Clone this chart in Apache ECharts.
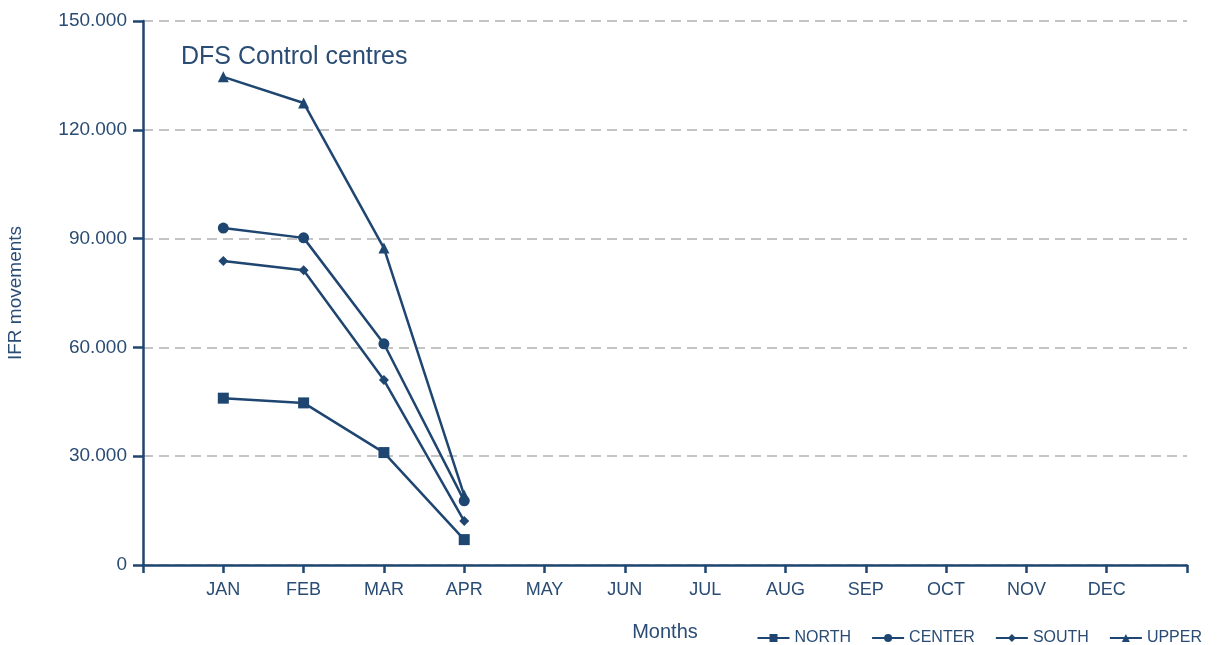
<!DOCTYPE html>
<html>
<head>
<meta charset="utf-8">
<script src="https://cdn.jsdelivr.net/npm/echarts@6/dist/echarts.min.js"></script>
<style>
  html, body { margin: 0; padding: 0; background: #fff; }
  #chart { width: 1217px; height: 645px; }
</style>
</head>
<body>
<div id="chart"></div>
<script>
const months = ['JAN', 'FEB', 'MAR', 'APR', 'MAY', 'JUN', 'JUL', 'AUG', 'SEP', 'OCT', 'NOV', 'DEC']
const north = [46000, 44700, 31000, 7000]
const center = [92900, 90200, 61000, 17700]
const south = [83800, 81300, 51000, 12100]
const upper = [134600, 127400, 87400, 19200]

const BLUE = '#1f4571'
const TEXT = '#2a4c74'
const FONT = '"Liberation Sans", Arial, sans-serif'

const toPoints = arr => arr.map((v, i) => [i + 1, v])
const thousands = v => String(v).replace(/\B(?=(\d{3})+(?!\d))/g, '.')

const mkSeries = (name, arr, symbol, size) => ({
  name, type: 'line', data: toPoints(arr),
  symbol, symbolSize: size,
  lineStyle: { color: BLUE, width: 2.5 },
  itemStyle: { color: BLUE },
  emphasis: { disabled: true }
})

const chart = echarts.init(document.getElementById('chart'))
chart.setOption({
  animation: false,
  textStyle: { fontFamily: FONT },
  title: {
    text: 'DFS Control centres', left: 176, top: 40,
    textStyle: { color: TEXT, fontSize: 25, fontWeight: 'normal', fontFamily: FONT }
  },
  grid: { left: 143, right: 30, top: 21, bottom: 80, outerBoundsMode: 'none', containLabel: false },
  legend: {
    right: 10, top: 625, itemWidth: 32, itemHeight: 10, itemGap: 20,
    textStyle: { color: TEXT, fontSize: 16, fontFamily: FONT },
    data: ['NORTH', 'CENTER', 'SOUTH', 'UPPER']
  },
  xAxis: {
    type: 'value', min: 0, max: 13, interval: 1,
    name: 'Months', nameLocation: 'middle', nameGap: 57,
    nameTextStyle: { color: TEXT, fontSize: 20, fontFamily: FONT },
    axisLine: { lineStyle: { color: BLUE, width: 2.5 } },
    axisTick: { show: true, length: 8, lineStyle: { color: BLUE, width: 2.5 } },
    axisLabel: {
      color: TEXT, fontSize: 18, margin: 16, fontFamily: FONT,
      formatter: v => months[v - 1] || ''
    },
    splitLine: { show: false }
  },
  yAxis: {
    type: 'value', min: 0, max: 150000, interval: 30000,
    name: 'IFR movements', nameLocation: 'middle', nameGap: 118, nameRotate: 90,
    nameTextStyle: { color: TEXT, fontSize: 19, fontFamily: FONT },
    axisLine: { show: true, lineStyle: { color: BLUE, width: 2.5 } },
    axisTick: { show: true, length: 10, lineStyle: { color: BLUE, width: 2.5 } },
    axisLabel: { color: TEXT, fontSize: 19, margin: 16, fontFamily: FONT, formatter: thousands },
    splitLine: { show: true, lineStyle: { color: '#c4c4c4', width: 2, type: [10, 6] } }
  },
  series: [
    mkSeries('NORTH', north, 'rect', 11),
    mkSeries('CENTER', center, 'circle', 11),
    mkSeries('SOUTH', south, 'diamond', 10),
    mkSeries('UPPER', upper, 'triangle', 11)
  ]
})
</script>
</body>
</html>
